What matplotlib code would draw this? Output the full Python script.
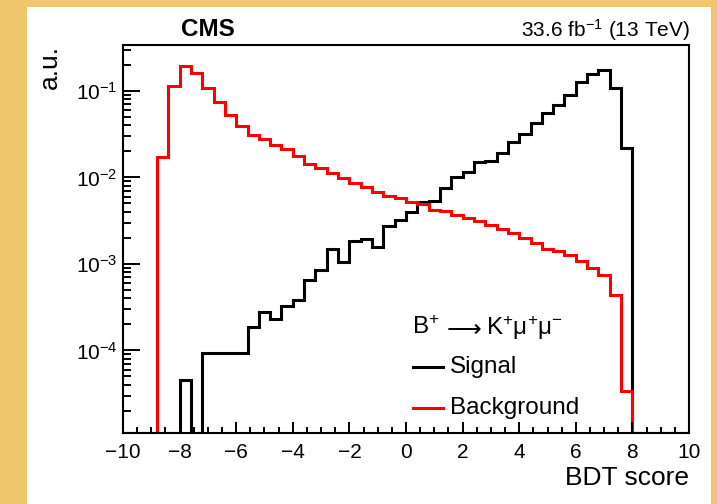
import numpy as np
import matplotlib
matplotlib.use("Agg")
import matplotlib.pyplot as plt
from matplotlib.patches import Rectangle
from matplotlib.lines import Line2D
from matplotlib.ticker import MultipleLocator, LogLocator, NullFormatter

plt.rcParams['font.family'] = ['Liberation Sans', 'DejaVu Sans']
plt.rcParams['mathtext.fontset'] = 'custom'
plt.rcParams['mathtext.rm'] = 'Liberation Sans'
plt.rcParams['mathtext.it'] = 'Liberation Sans:italic'
plt.rcParams['mathtext.bf'] = 'Liberation Sans:bold'

# 50 bins of width 0.4 from -10 to 10
x_range = (-10, 10)
n_bins = 50

# normalised BDT score distributions (0 = empty bin)
signal = [0, 0, 0, 0, 0, 4.56e-5, 0, 9.29e-5, 9.29e-5, 9.29e-5,
          9.29e-5, 1.86e-4, 2.77e-4, 2.32e-4, 3.23e-4, 3.84e-4, 6.46e-4, 8.43e-4, 1.48e-3, 1.04e-3,
          1.85e-3, 1.96e-3, 1.59e-3, 2.76e-3, 3.20e-3, 3.99e-3, 5.21e-3, 5.35e-3, 7.46e-3, 1.02e-2,
          1.16e-2, 1.49e-2, 1.57e-2, 1.90e-2, 2.59e-2, 3.18e-2, 4.22e-2, 5.52e-2, 6.89e-2, 8.99e-2,
          0.128, 0.157, 0.175, 0.107, 0.0217, 0, 0, 0, 0, 0]
background = [0, 0, 0, 0.0173, 0.115, 0.195, 0.160, 0.109, 0.0752, 0.0527,
              0.0393, 0.0309, 0.0275, 0.0239, 0.0211, 0.0179, 0.0143, 0.0129, 0.0112, 0.00982,
              0.00871, 0.00782, 0.00681, 0.00607, 0.00571, 0.00515, 0.00499, 0.00424, 0.00407, 0.00371,
              0.00342, 0.00312, 0.00284, 0.00255, 0.00226, 0.00198, 0.00176, 0.00148, 0.00140, 0.00127,
              0.00107, 0.000889, 0.000738, 0.000433, 3.43e-5, 0, 0, 0, 0, 0]

ylims = (1.1e-5, 0.34)

W, H = 717, 504
fig = plt.figure(figsize=(W / 100, H / 100), dpi=100)
fig.patch.set_facecolor('#EFC66C')
fig.patches.append(Rectangle((27 / W, 0), (711 - 27) / W, (504 - 7) / H,
                             transform=fig.transFigure, facecolor='white',
                             edgecolor='none', zorder=-10))

ax = fig.add_axes([123 / W, 1 - 433.3 / H, (689 - 123) / W, (433.3 - 45) / H])

edges = np.linspace(x_range[0], x_range[1], n_bins + 1)
sig = np.maximum(np.array(signal), ylims[0])
bkg = np.maximum(np.array(background), ylims[0])
ax.stairs(sig, edges, baseline=None, color='black', linewidth=2.2)
ax.stairs(bkg, edges, baseline=None, color='#FF0000', linewidth=2.2)

ax.set_yscale('log')
ax.set_xlim(*x_range)
ax.set_ylim(*ylims)

ax.xaxis.set_major_locator(MultipleLocator(2))
ax.xaxis.set_minor_locator(MultipleLocator(0.5))
ax.yaxis.set_major_locator(LogLocator(base=10))
ax.yaxis.set_minor_locator(LogLocator(base=10, subs=np.arange(2, 10)))
ax.yaxis.set_minor_formatter(NullFormatter())

for s in ax.spines.values():
    s.set_linewidth(1.5)
ax.tick_params(axis='both', which='both', direction='in', width=1.4,
               labelsize=15, top=False, right=False)
ax.tick_params(axis='x', which='major', length=8, pad=7)
ax.tick_params(axis='x', which='minor', length=4)
ax.tick_params(axis='y', which='major', length=12, pad=4)
ax.tick_params(axis='y', which='minor', length=6)

ax.set_xlabel('BDT score', fontsize=19, ha='right')
ax.xaxis.set_label_coords(1.0, -0.083)
ax.set_ylabel('a.u.', fontsize=19, ha='right')
ax.yaxis.set_label_coords(-0.108, 1.0)

fig.text(208 / W, 1 - 30 / H, 'CMS', fontsize=17.5, fontweight='bold',
         ha='center', va='center')
fig.text(690 / W, 1 - 30 / H, r'33.6 fb$^{-1}$ (13 TeV)', fontsize=15,
         ha='right', va='center')

# legend, drawn by hand
fig.text(412 / W, 1 - 328 / H, 'B$^{+}$', fontsize=17.5, ha='left', va='center')
fig.text(464 / W, 1 - 330 / H, '⟶', fontsize=17.5, family='DejaVu Sans',
         ha='center', va='center')
fig.text(486 / W, 1 - 328 / H, 'K$^{+}$μ$^{+}$μ$^{-}$', fontsize=17.5,
         ha='left', va='center')
fig.lines.append(Line2D([413 / W, 443 / W], [1 - 367 / H] * 2,
                        transform=fig.transFigure, color='black', linewidth=2.2))
fig.lines.append(Line2D([413 / W, 443 / W], [1 - 408 / H] * 2,
                        transform=fig.transFigure, color='#FF0000', linewidth=2.2))
fig.text(450 / W, 1 - 367 / H, 'Signal', fontsize=17.5, ha='left', va='center')
fig.text(450 / W, 1 - 408 / H, 'Background', fontsize=17.5, ha='left', va='center')

fig.savefig('out.png', dpi=100, facecolor=fig.get_facecolor())
